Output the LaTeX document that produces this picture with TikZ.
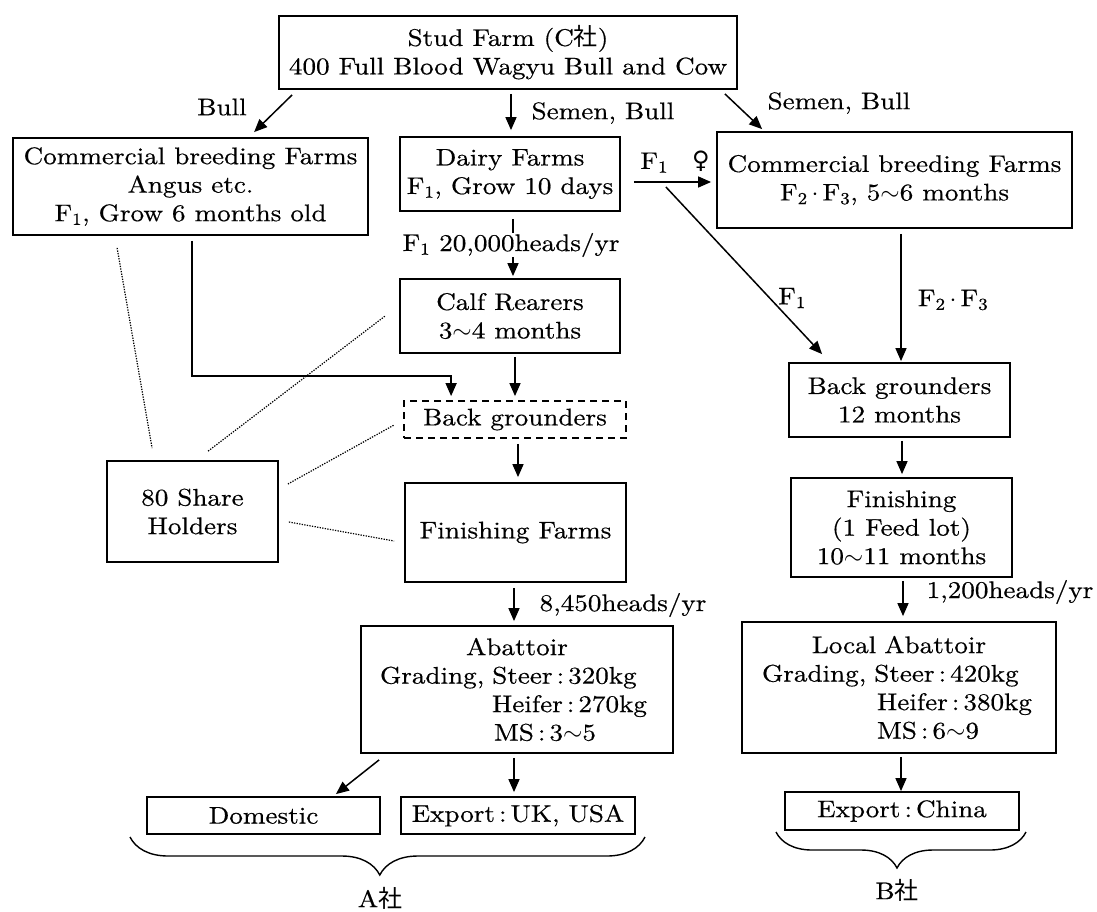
\documentclass[tikz,border=0pt]{standalone}
\usepackage{fontspec}
\setmainfont{lmroman10-regular.otf}[FakeStretch=1.13,FakeBold=0.5]
\newfontfamily\cjk{Noto Sans CJK JP}
\newfontfamily\symf{DejaVu Sans}
\usetikzlibrary{arrows.meta,calc,decorations.pathreplacing}
\newcommand\fsz{\fontsize{24}{28.5}\selectfont}
\newcommand\tl{$\sim$}
\begin{document}
\begin{tikzpicture}[x=1pt,y=-1pt,
  box/.style={draw, line width=1.8pt, inner sep=0pt, align=center, font=\fsz},
  lab/.style={inner sep=0pt, font=\fsz},
  arr/.style={line width=1.5pt, -{Triangle[length=13pt,width=11pt]}},
  dotl/.style={line width=1.2pt, dash pattern=on 1.3pt off 1.3pt},
  brc/.style={decorate, line width=1.4pt}]
\useasboundingbox (0,0) rectangle (1097,911);

% boxes
\node[box, minimum width=458pt, minimum height=73pt] (stud) at (508,52.5)
  {Stud Farm (C{\cjk 社})\\400 Full Blood Wagyu Bull and Cow};
\node[box, minimum width=355pt, minimum height=97pt] (cbfL) at (190.5,186.5)
  {Commercial breeding Farms\\Angus etc.\\F\textsubscript{1}, Grow 6 months old};
\node[box, minimum width=220pt, minimum height=74pt] (dairy) at (510,174)
  {Dairy Farms\\F\textsubscript{1}, Grow 10 days};
\node[box, minimum width=355pt, minimum height=96pt] (cbfR) at (894.5,180)
  {Commercial breeding Farms\\F\textsubscript{2}\,$\cdot$\,F\textsubscript{3}, 5\tl6 months};
\node[box, minimum width=220pt, minimum height=74pt] (calf) at (510,316)
  {Calf Rearers\\3\tl4 months};
\node[box, dash pattern=on 7pt off 5pt, minimum width=222pt, minimum height=37pt] (bgA) at (515,419.5)
  {Back grounders};
\node[box, minimum width=221pt, minimum height=99pt] (finA) at (515.5,532.5)
  {Finishing Farms};
\node[box, minimum width=171pt, minimum height=101pt] (share) at (192.5,511.5)
  {80 Share\\Holders};
\node[box, minimum width=312pt, minimum height=127pt, text width=274pt, align=left] (abA) at (517,689.5)
  {\makebox[274pt][c]{Abattoir}\\Grading, Steer\,:\,320kg\\\hspace*{112pt}Heifer\,:\,270kg\\\hspace*{114pt}MS\,:\,3\tl5};
\node[box, minimum width=233pt, minimum height=37pt] (dom) at (263.5,815.5) {Domestic};
\node[box, minimum width=234pt, minimum height=37pt] (expA) at (518,815.5) {Export\,:\,UK, USA};
\node[box, minimum width=221pt, minimum height=74pt] (bgB) at (899.5,400)
  {Back grounders\\12 months};
\node[box, minimum width=221pt, minimum height=99pt] (finB) at (901.5,527.5)
  {Finishing\\(1 Feed lot)\\10\tl11 months};
\node[box, minimum width=314pt, minimum height=131pt, text width=274pt, align=left] (abB) at (899,687.5)
  {\makebox[274pt][c]{Local Abattoir}\\Grading, Steer\,:\,420kg\\\hspace*{115pt}Heifer\,:\,380kg\\\hspace*{115pt}MS\,:\,6\tl9};
\node[box, minimum width=234pt, minimum height=38pt] (expB) at (902,811) {Export\,:\,China};

% arrows
\draw[arr] ($(stud.south west)+(14,5)$) -- ($(cbfL.north west)+(242,-5)$);
\draw[arr] ($(stud.south)+(3,4)$) -- ($(dairy.north)+(1,-6)$);
\draw[arr] ($(stud.south east)+(-13,4)$) -- ($(cbfR.north west)+(46,-2)$);
\draw[arr] ($(dairy.east)+(13,8)$) -- ($(cbfR.west)+(-5,2)$);
\draw[arr] ($(dairy.east)+(45,13)$) -- ($(bgB.north west)+(34,-8)$);
\draw[arr] ($(cbfR.south)+(6.5,5)$) -- ($(bgB.north)+(1.5,-1)$);
\draw[arr] ($(bgB.south)+(2.5,3)$) -- ($(finB.north)+(0.5,-3)$);
\draw[arr] ($(finB.south)+(1.5,3)$) -- ($(abB.north)+(4,-5)$);
\draw[arr] ($(abB.south)+(2,3)$) -- ($(expB.north)+(-1,0)$);
\draw[arr] ($(dairy.south)+(3,7)$) -- ($(calf.north)+(3,-2)$);
\draw[arr] ($(calf.south)+(5,3)$) -- ($(bgA.north)+(0,-4)$);
\draw[arr] ($(cbfL.south)+(1.5,5)$) |- ($(bgA.north west)+(48,-24)$) -- ($(bgA.north west)+(48,-4)$);
\draw[arr] ($(bgA.south)+(3,5)$) -- ($(finA.north)+(2.5,-5)$);
\draw[arr] ($(finA.south)+(-1.5,5)$) -- ($(abA.north)+(-3,-4)$);
\draw[arr] ($(abA.south west)+(19,6)$) -- ($(dom.north east)+(-45,-2)$);
\draw[arr] ($(abA.south)+(-3,4)$) -- ($(expA.north)+(-4,-4)$);

% dotted share-holder links
\draw[dotl] ($(cbfL.south west)+(105,12)$) -- ($(share.north west)+(46,-12)$);
\draw[dotl] ($(share.north west)+(102,-9)$) -- ($(calf.west)+(-14,0)$);
\draw[dotl] ($(share.east)+(9,-27.5)$) -- ($(bgA.west)+(-9,5.5)$);
\draw[dotl] ($(share.east)+(10,10.5)$) -- ($(finA.west)+(-10,8.5)$);

% labels
\node[lab] (lbull) at (222,107) {Bull};
\node[lab] (lsemA) at (603,113) {Semen, Bull};
\node[lab] (lsemB) at (839,103) {Semen, Bull};
\node[lab] (lfq) at (675,162) {F\textsubscript{1}\quad{\symf ♀}};
\node[lab] (lf1) at (792,298) {F\textsubscript{1}};
\node[lab] (lf23) at (953,300) {F\textsubscript{2}\,$\cdot$\,F\textsubscript{3}};
\node[lab, fill=white] (lheads) at (511,245) {F\textsubscript{1} 20,000heads/yr};
\node[lab] (l8450) at (623,605) {8,450heads/yr};
\node[lab] (l1200) at (1010,592) {1,200heads/yr};

% braces
\draw[brc, decoration={brace, mirror, amplitude=38pt, aspect=0.485}] (130,837) -- (645,837);
\draw[brc, decoration={brace, mirror, amplitude=36pt, aspect=0.484}] (776,832) -- (1026,832);
\node[lab] (lA) at (380,898) {A{\cjk 社}};
\node[lab] (lB) at (897,890) {B{\cjk 社}};
\end{tikzpicture}
\end{document}
